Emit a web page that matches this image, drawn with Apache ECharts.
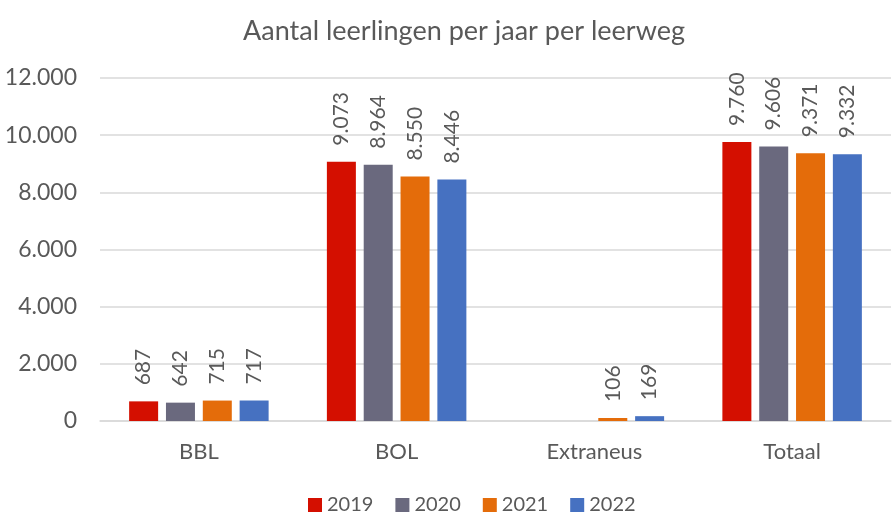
<!DOCTYPE html>
<html>
<head>
<meta charset="utf-8">
<script src="https://cdn.jsdelivr.net/npm/echarts@6/dist/echarts.min.js"></script>
<style>
  html, body { margin: 0; padding: 0; background: #fff; }
  #main { width: 893px; height: 515px; }
</style>
</head>
<body>
<div id="main"></div>
<script>
let categories = ['BBL', 'BOL', 'Extraneus', 'Totaal']
let years = ['2019', '2020', '2021', '2022']
let colors = ['#D40F00', '#6A697E', '#E46C0A', '#4671C1']
let y2019 = [687, 9073, null, 9760]
let y2020 = [642, 8964, null, 9606]
let y2021 = [715, 8550, 106, 9371]
let y2022 = [717, 8446, 169, 9332]
let seriesData = [y2019, y2020, y2021, y2022]

const font = 'Lato, "Open Sans", sans-serif'
const textColor = '#595959'

// Dutch thousands separator
function fmt (v) {
    return String(v).replace(/\B(?=(\d{3})+(?!\d))/g, '.')
}

let myChart = echarts.init(document.getElementById('main'))
let option = {
    backgroundColor: '#ffffff',
    animation: false,
    title: {
        text: 'Aantal leerlingen per jaar per leerweg',
        left: 238,
        top: 13,
        textStyle: {
            fontFamily: font,
            fontSize: 27,
            fontWeight: 'normal',
            color: textColor
        }
    },
    legend: {
        left: 303,
        top: 490,
        itemWidth: 14,
        itemHeight: 14,
        itemGap: 22,
        icon: 'rect',
        textStyle: {
            fontFamily: font,
            fontSize: 20,
            color: textColor
        },
        data: years
    },
    grid: {
        top: 78,
        left: 100,
        right: 2,
        bottom: 94
    },
    xAxis: {
        type: 'category',
        data: categories,
        axisTick: { show: false },
        axisLine: { lineStyle: { color: '#D9D9D9', width: 1.5 } },
        axisLabel: {
            margin: 20,
            fontFamily: font,
            fontSize: 22,
            color: textColor
        }
    },
    yAxis: {
        type: 'value',
        min: 0,
        max: 12000,
        interval: 2000,
        axisLine: { show: false },
        axisTick: { show: false },
        splitLine: { lineStyle: { color: '#D9D9D9', width: 1.5 } },
        axisLabel: {
            margin: 23,
            fontFamily: font,
            fontSize: 23,
            color: textColor,
            formatter: fmt
        }
    },
    series: years.map(function (y, i) {
        return {
            name: y,
            type: 'bar',
            barWidth: 29,
            barGap: '27%',
            itemStyle: { color: colors[i] },
            label: {
                show: true,
                position: 'top',
                rotate: 90,
                align: 'left',
                verticalAlign: 'middle',
                distance: 16,
                fontFamily: font,
                fontSize: 21,
                color: textColor,
                formatter: function (p) { return fmt(p.value) }
            },
            data: seriesData[i]
        }
    })
}
myChart.clear()
myChart.setOption(option)
</script>
</body>
</html>
